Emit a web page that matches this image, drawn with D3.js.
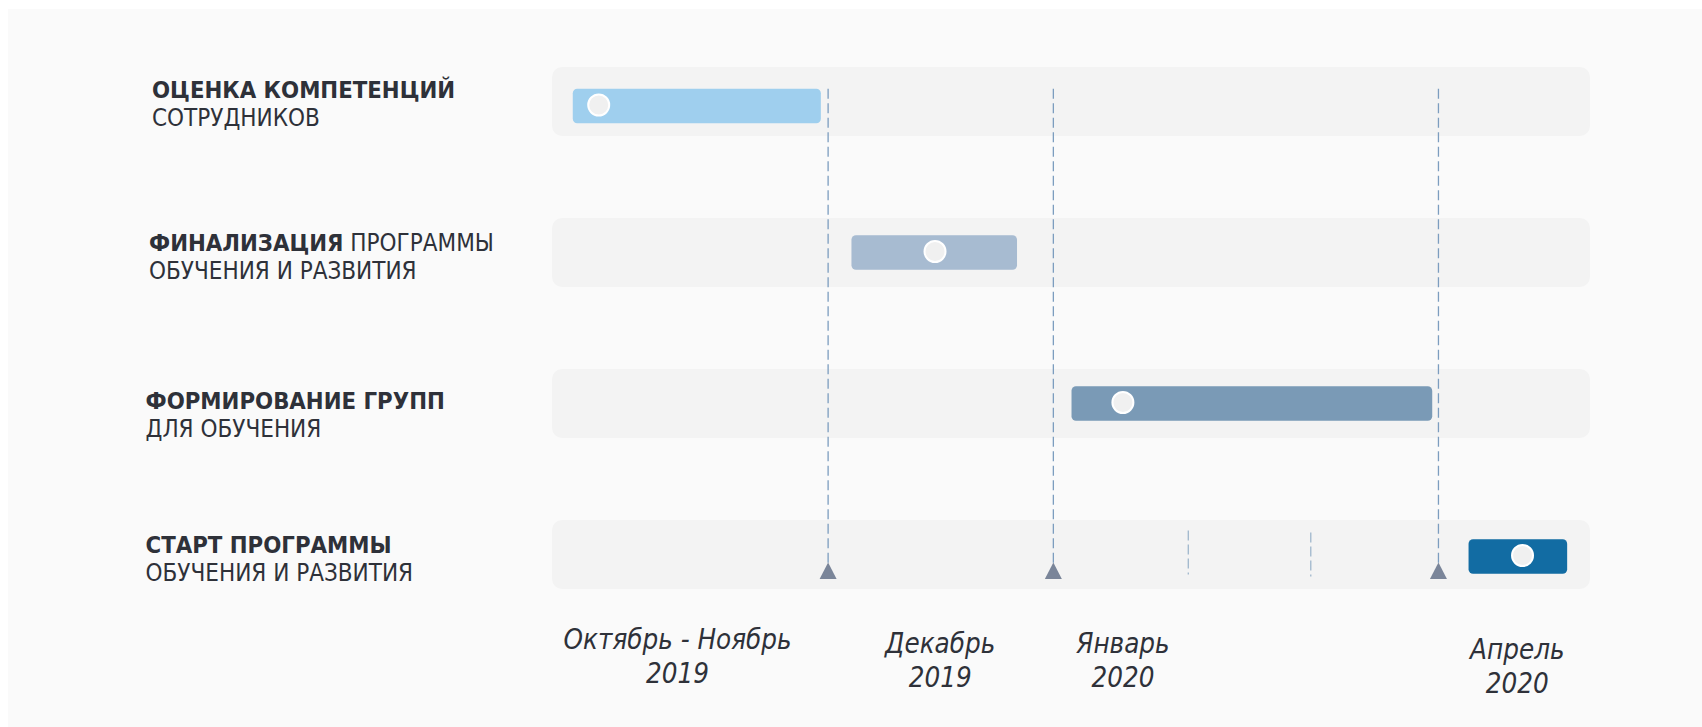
<!DOCTYPE html>
<html>
<head>
<meta charset="utf-8">
<script src="https://cdn.jsdelivr.net/npm/d3@7"></script>
<style>
  html, body { margin: 0; padding: 0; background: #ffffff; }
  svg { display: block; }
  .lbl { font-family: "DejaVu Sans Condensed", "DejaVu Sans", sans-serif; font-stretch: condensed; }
</style>
</head>
<body>
<svg id="chart" width="1702" height="727"></svg>
<script>
// ---- data ----
const taskBold   = ["ОЦЕНКА КОМПЕТЕНЦИЙ", "ФИНАЛИЗАЦИЯ", "ФОРМИРОВАНИЕ ГРУПП", "СТАРТ ПРОГРАММЫ"];
const taskRest   = ["", " ПРОГРАММЫ", "", ""];
const taskLine2  = ["СОТРУДНИКОВ", "ОБУЧЕНИЯ И РАЗВИТИЯ", "ДЛЯ ОБУЧЕНИЯ", "ОБУЧЕНИЯ И РАЗВИТИЯ"];
const barStart   = [2.0, 28.85, 50.05, 88.3];
const barEnd     = [25.9, 44.8, 84.8, 97.8];
const barMarker  = [4.5, 36.9, 55.0, 93.5];
const milestones = [26.6, 48.3, 85.4];
const minorTicks = [61.3, 73.1];
const periodLine1 = ["Октябрь - Ноябрь", "Декабрь", "Январь", "Апрель"];
const periodLine2 = ["2019", "2019", "2020", "2020"];
const periodPos   = [12.1, 37.4, 55.0, 93.0];

// ---- styles / layout ----
const barColors = ["#9fcfee", "#a7bbd1", "#7a9ab6", "#126ca3"];
const textColor = "#2e3139";
const W = 1702, H = 727;
const barDy   = [4.5, 0, 0, 2];      // fine vertical tweaks of bars within rows
const labelDx = [152, 149, 145.5, 145.5];
const labelDy = [31, 32.7, 40, 33.3];
const periodDy = [0, 4, 4, 10];

const svg = d3.select("#chart");
svg.append("rect").attr("x", 8).attr("y", 9).attr("width", W - 8).attr("height", H - 9).attr("fill", "#fafafa");

const x = d3.scaleLinear().domain([0, 100]).range([552, 1590]);
const y = d3.scaleBand().domain(d3.range(taskBold.length)).range([67, 589]).paddingInner(0.543).paddingOuter(0);
const bw = y.bandwidth();
const barH = 34.6;

// row panels
svg.append("g").selectAll("rect").data(taskBold).join("rect")
  .attr("x", x(0)).attr("width", x(100) - x(0))
  .attr("y", (d, i) => y(i)).attr("height", bw)
  .attr("rx", 10).attr("fill", "#f3f3f3");

// bars
svg.append("g").selectAll("rect").data(barStart).join("rect")
  .attr("x", (d) => x(d))
  .attr("width", (d, i) => x(barEnd[i]) - x(d))
  .attr("y", (d, i) => y(i) + (bw - barH) / 2 + barDy[i])
  .attr("height", barH)
  .attr("rx", 4.5)
  .attr("fill", (d, i) => barColors[i]);

// milestone dashed lines
const lineTop = y(0) + (bw - barH) / 2 + barDy[0];
const triTop = 562.5, triBot = 579;
svg.append("g").selectAll("line").data(milestones).join("line")
  .attr("x1", (d) => x(d)).attr("x2", (d) => x(d))
  .attr("y1", lineTop).attr("y2", triTop + 2)
  .attr("stroke", "#7c9dbf").attr("stroke-width", 1.3)
  .attr("stroke-dasharray", "10,4.5");

// minor dashed ticks
svg.append("g").selectAll("line").data(minorTicks).join("line")
  .attr("x1", (d) => x(d)).attr("x2", (d) => x(d))
  .attr("y1", (d, i) => 530.5 + i * 2).attr("y2", (d, i) => 574.5 + i * 2)
  .attr("stroke", "#9fb7cc").attr("stroke-width", 1.3)
  .attr("stroke-dasharray", "10,4");

// triangles
svg.append("g").selectAll("path").data(milestones).join("path")
  .attr("d", (d) => {
    const cx = x(d);
    return `M${cx - 8.5},${triBot} L${cx},${triTop} L${cx + 8.5},${triBot} Z`;
  })
  .attr("fill", "#7a8599");

// markers on bars
svg.append("g").selectAll("circle").data(barMarker).join("circle")
  .attr("cx", (d) => x(d))
  .attr("cy", (d, i) => y(i) + bw / 2 + barDy[i] - 1)
  .attr("r", 10.5)
  .attr("fill", "#f0f0f0")
  .attr("stroke", "#ffffff").attr("stroke-width", 2);

// task labels
const lab = svg.append("g").attr("class", "lbl").attr("fill", textColor).attr("font-size", 24);
taskBold.forEach((t, i) => {
  const t1 = lab.append("text").attr("x", labelDx[i]).attr("y", y(i) + labelDy[i]);
  t1.append("tspan").attr("font-weight", "bold").attr("font-size", 23.7).text(t);
  if (taskRest[i]) t1.append("tspan").attr("font-weight", "normal").text(taskRest[i]);
  lab.append("text").attr("x", labelDx[i]).attr("y", y(i) + labelDy[i] + 28).text(taskLine2[i]);
});

// period labels
const per = svg.append("g").attr("class", "lbl").attr("fill", textColor)
  .attr("font-size", 27.5).attr("font-style", "italic").attr("text-anchor", "middle");
periodLine1.forEach((t, i) => {
  per.append("text").attr("x", x(periodPos[i])).attr("y", 649 + periodDy[i]).text(t);
  per.append("text").attr("x", x(periodPos[i])).attr("y", 683 + periodDy[i]).text(periodLine2[i]);
});
</script>
</body>
</html>
